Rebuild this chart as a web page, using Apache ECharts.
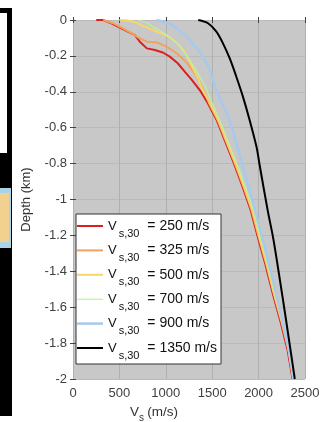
<!DOCTYPE html>
<html>
<head>
<meta charset="utf-8">
<script src="https://cdn.jsdelivr.net/npm/echarts@6/dist/echarts.min.js"></script>
<style>
html, body { margin: 0; padding: 0; background: #fff; }
#main { width: 321px; height: 422px; }
</style>
</head>
<body>
<div id="main"></div>
<script>
// axis ticks
var xTicks = [0, 500, 1000, 1500, 2000, 2500];
var yTicks = [0, -0.2, -0.4, -0.6, -0.8, -1, -1.2, -1.4, -1.6, -1.8, -2];

// Vs30 = 250 m/s
var vel250 = [250, 323, 398, 484, 591, 667, 720, 796, 882, 968, 1043, 1129, 1204, 1280, 1366, 1452, 1548, 1634, 1720, 1828, 1914, 2000, 2075, 2151, 2237, 2312, 2366];
var dep250 = [0, 0, -0.015, -0.037, -0.065, -0.084, -0.121, -0.158, -0.167, -0.181, -0.204, -0.241, -0.288, -0.334, -0.39, -0.462, -0.557, -0.669, -0.78, -0.93, -1.058, -1.226, -1.365, -1.521, -1.682, -1.838, -2.0];
// Vs30 = 325 m/s
var vel325 = [325, 430, 538, 634, 720, 796, 903, 1011, 1118, 1226, 1301, 1366, 1420, 1465, 1558, 1644, 1730, 1838, 1924, 2010, 2085, 2161, 2247, 2322, 2372];
var dep325 = [0, -0.018, -0.046, -0.074, -0.102, -0.121, -0.125, -0.149, -0.186, -0.237, -0.29, -0.345, -0.407, -0.462, -0.557, -0.669, -0.78, -0.93, -1.058, -1.226, -1.365, -1.521, -1.682, -1.838, -2.0];
// Vs30 = 500 m/s
var vel500 = [500, 645, 785, 914, 1043, 1151, 1226, 1290, 1355, 1398, 1475, 1566, 1652, 1737, 1845, 1931, 2017, 2091, 2166, 2252, 2326, 2374];
var dep500 = [0, -0.008, -0.039, -0.067, -0.097, -0.145, -0.2, -0.267, -0.334, -0.39, -0.462, -0.557, -0.669, -0.78, -0.93, -1.058, -1.226, -1.365, -1.521, -1.682, -1.838, -2.0];
// Vs30 = 700 m/s
var vel700 = [700, 785, 860, 1011, 1118, 1226, 1290, 1387, 1441, 1498, 1580, 1664, 1750, 1858, 1943, 2028, 2101, 2175, 2260, 2332, 2376];
var dep700 = [0, -0.014, -0.037, -0.084, -0.13, -0.195, -0.251, -0.334, -0.39, -0.462, -0.557, -0.669, -0.78, -0.93, -1.058, -1.226, -1.365, -1.521, -1.682, -1.838, -2.0];
// Vs30 = 900 m/s
var vel900 = [900, 1011, 1118, 1226, 1333, 1441, 1500, 1545, 1640, 1712, 1768, 1822, 1877, 1930, 1982, 2032, 2130, 2222, 2310, 2376];
var dep900 = [0, -0.015, -0.046, -0.093, -0.158, -0.241, -0.32, -0.39, -0.5, -0.6, -0.7, -0.8, -0.9, -1.0, -1.1, -1.2, -1.4, -1.6, -1.8, -2.0];
// Vs30 = 1350 m/s
var vel1350 = [1350, 1455, 1545, 1616, 1688, 1760, 1831, 1903, 1978, 2011, 2097, 2161, 2258, 2328, 2390];
var dep1350 = [0, -0.018, -0.065, -0.13, -0.213, -0.316, -0.427, -0.557, -0.708, -0.808, -1.058, -1.226, -1.543, -1.783, -2.0];

var vsNames = ['250', '325', '500', '700', '900', '1350'];
var vsColors = ['#dc1f1f', '#f2a25e', '#f7d56c', '#b9f2a4', '#a7c9ec', '#000000'];
var vsWidths = [2, 2, 2, 1.2, 2.5, 2];
var vsSmooth = [false, false, 0.3, 0.3, 0.3, 0.3];
var vsVel = [vel250, vel325, vel500, vel700, vel900, vel1350];
var vsDep = [dep250, dep325, dep500, dep700, dep900, dep1350];

function pairs(vx, vy) {
	var out = [];
	for (var i = 0; i < vx.length; i++) {
		out.push([vx[i], vy[i]]);
	}
	return out;
}

// thin line for the legend key, box 0..10 high so the bar keeps its width
function keyIcon(w) {
	var a = 5 - w / 2, b = 5 + w / 2;
	return 'path://M0,0L0,0M26,10L26,10M0,' + a + 'H26V' + b + 'H0Z';
}

var series = [];
var legendData = [];
for (var i = 0; i < vsNames.length; i++) {
	var nm = 'Vs30 = ' + vsNames[i] + ' m/s';
	legendData.push({ name : nm, icon : keyIcon(vsWidths[i]) });
	series.push({
		name : nm,
		type : 'line',
		data : pairs(vsVel[i], vsDep[i]),
		symbol : 'none',
		smooth : vsSmooth[i],
		lineStyle : { color : vsColors[i], width : vsWidths[i] },
		itemStyle : { color : vsColors[i] },
		z : 3 + i
	});
}

var myChart = echarts.init(document.getElementById('main'));
var option = {
	animation : false,
	textStyle : { fontFamily : 'Liberation Sans' },
	grid : {
		left : 73, right : 16, top : 20, bottom : 43,
		outerBoundsMode : 'none',
		containLabel : false,
		show : true, backgroundColor : '#c8c8c8', borderWidth : 0
	},
	legend : {
		orient : 'vertical',
		left : 76, top : 214,
		data : legendData,
		backgroundColor : '#ffffff',
		borderColor : '#333333',
		borderWidth : 1,
		borderRadius : 0,
		padding : [5, 4, 3, 1],
		itemWidth : 26,
		itemHeight : 10,
		itemGap : 4.4,
		formatter : function (name) {
			var v = name.replace('Vs30 = ', '');
			return '{v|V}{s|s,30}{t| = ' + v + '}';
		},
		textStyle : {
			rich : {
				v : { fontSize : 13, lineHeight : 26, color : '#111', fontFamily : 'Liberation Sans' },
				s : { fontSize : 11, lineHeight : 11, verticalAlign : 'bottom', padding : [0, 0, 0, 2], color : '#111', fontFamily : 'Liberation Sans' },
				t : { fontSize : 14, lineHeight : 26, padding : [0, 0, 0, 4], color : '#111', fontFamily : 'Liberation Sans' }
			}
		}
	},
	xAxis : [{
		type : 'value', min : 0, max : 2500, interval : 500, position : 'bottom',
		name : '{v|V}{s|s} {t|(m/s)}',
		nameLocation : 'middle', nameGap : 20,
		nameTextStyle : {
			padding : [0, 70, 0, 0],
			rich : {
				v : { fontSize : 13.5, lineHeight : 22, color : '#333' },
				s : { fontSize : 10, lineHeight : 10, verticalAlign : 'bottom', color : '#333' },
				t : { fontSize : 13.5, lineHeight : 22, color : '#333' }
			}
		},
		axisLine : { show : false },
		axisTick : { show : true, inside : true, length : 3, lineStyle : { color : '#444' } },
		axisLabel : { fontSize : 13, color : '#404040', margin : 8,
			customValues : xTicks, formatter : function (v) { return String(v); } },
		splitLine : { show : true, lineStyle : { color : '#b0b0b0', width : 1 } }
	}, {
		type : 'value', min : 0, max : 2500, interval : 500, position : 'top',
		axisLine : { show : false },
		axisTick : { show : true, inside : true, length : 3, lineStyle : { color : '#444' } },
		axisLabel : { show : false },
		splitLine : { show : false }
	}],
	yAxis : [{
		type : 'value', min : -2, max : 0, interval : 0.2, position : 'left',
		name : 'Depth (km)',
		nameLocation : 'middle', nameGap : 40,
		nameTextStyle : { fontSize : 13, color : '#333' },
		axisLine : { show : false },
		axisTick : { show : true, inside : true, length : 3, lineStyle : { color : '#444' } },
		axisLabel : { fontSize : 13, color : '#404040', margin : 6,
			formatter : function (v) { return String(Math.round(v * 10) / 10); } },
		splitLine : { show : true, lineStyle : { color : '#bababa', width : 1 } }
	}, {
		type : 'value', min : -2, max : 0, interval : 0.2, position : 'right',
		axisLine : { show : false },
		axisTick : { show : true, inside : true, length : 3, lineStyle : { color : '#444' } },
		axisLabel : { show : false },
		splitLine : { show : false }
	}],
	graphic : [
		// cropped neighbour panel on the left edge
		{ type : 'rect', shape : { x : 0, y : 8, width : 12, height : 408 }, style : { fill : '#000' } },
		{ type : 'rect', shape : { x : 0, y : 13, width : 7, height : 140 }, style : { fill : '#fff' } },
		{ type : 'rect', shape : { x : 0, y : 188, width : 11, height : 60 }, style : { fill : '#a9d3e6' } },
		{ type : 'rect', shape : { x : 0, y : 193, width : 9, height : 49 }, style : { fill : '#f2d08f' } }
	],
	series : series
};
myChart.setOption(option);
</script>
</body>
</html>
